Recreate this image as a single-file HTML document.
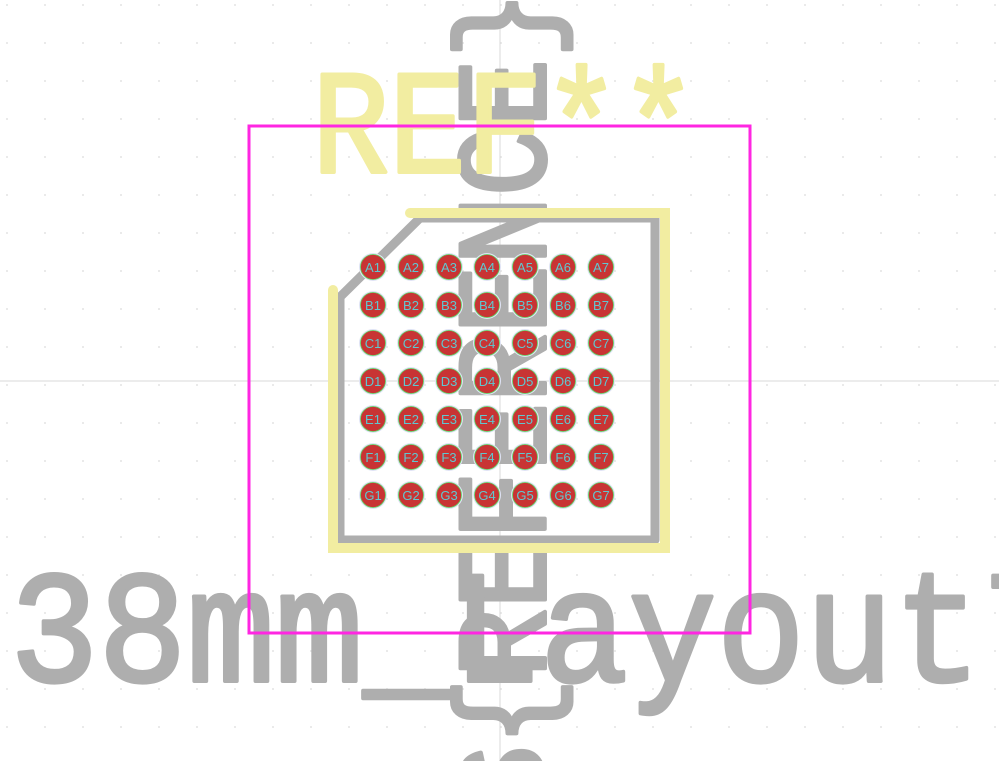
<!DOCTYPE html>
<html><head><meta charset="utf-8"><style>
html,body{margin:0;padding:0;background:#fff;width:999px;height:761px;overflow:hidden}
svg{display:block;overflow:hidden}
</style></head><body>
<svg width="999" height="761" viewBox="0 0 999 761" xmlns="http://www.w3.org/2000/svg">
<defs>
<pattern id="grid" x="0" y="0" width="38" height="38" patternUnits="userSpaceOnUse" patternTransform="translate(6,4)">
<circle cx="1" cy="1" r="1" fill="#e4e4e4"/>
</pattern>
<clipPath id="frame"><rect width="999" height="761"/></clipPath>
</defs>
<g clip-path="url(#frame)">
<rect width="999" height="761" fill="#fff"/>
<rect width="999" height="761" fill="url(#grid)"/>
<line x1="500" y1="0" x2="500" y2="761" stroke="#d8d8d8" stroke-width="1"/>
<line x1="0" y1="381" x2="999" y2="381" stroke="#d8d8d8" stroke-width="1"/>

<g fill="#aeaeae" stroke="#aeaeae" stroke-width="4" stroke-linejoin="round">
<text transform="translate(545,815) rotate(-90)" font-family="Liberation Mono, monospace" font-size="128" textLength="825" lengthAdjust="spacingAndGlyphs">${REFERENCE}</text>
</g>

<g fill="#aeaeae" stroke="#aeaeae" stroke-width="4" stroke-linejoin="round">
<text x="10" y="681" font-family="Liberation Mono, monospace" font-size="160" textLength="1060" lengthAdjust="spacingAndGlyphs">38mm_Layout7</text>
</g>

<polygon points="420,218 655,218 655,540 340,540 340,297" fill="none" stroke="#aeaeae" stroke-width="9" stroke-linejoin="round"/>

<g fill="none" stroke="#f2eda1" stroke-width="10" stroke-linecap="round">
<polyline points="410,213 665,213 665,548 333,548 333,290"/>
</g>

<g fill="#f2eda1" stroke="#f2eda1" stroke-width="4" stroke-linejoin="round">
<text x="312" y="172" font-family="Liberation Mono, monospace" font-size="148" textLength="385" lengthAdjust="spacingAndGlyphs">REF**</text>
</g>

<rect x="249" y="126" width="501" height="507" fill="none" stroke="#ff26e2" stroke-width="3"/>

<g id="pads"></g>
</g>
</svg>
<script>
const rows = ['A','B','C','D','E','F','G'];
const cols = [1,2,3,4,5,6,7];
const x0 = 373, y0 = 267, pitch = 38;
const g = document.getElementById('pads');
const NS = 'http://www.w3.org/2000/svg';
rows.forEach((r, ri) => {
  cols.forEach((c, ci) => {
    const cx = x0 + ci * pitch, cy = y0 + ri * pitch;
    const grp = document.createElementNS(NS, 'g');
    
    
    const halo = document.createElementNS(NS, 'circle');
    halo.setAttribute('cx', cx); halo.setAttribute('cy', cy); halo.setAttribute('r', 14);
    halo.setAttribute('fill', '#dfe3f5');
    grp.appendChild(halo);
    const pad = document.createElementNS(NS, 'circle');
    pad.setAttribute('cx', cx); pad.setAttribute('cy', cy); pad.setAttribute('r', 12.5);
    pad.setAttribute('fill', '#c83434');
    pad.setAttribute('stroke', '#5fd35f'); pad.setAttribute('stroke-width', '0.8');
    grp.appendChild(pad);
    const t = document.createElementNS(NS, 'text');
    t.setAttribute('x', cx); t.setAttribute('y', cy + 5);
    t.setAttribute('text-anchor', 'middle');
    t.setAttribute('font-family', 'Liberation Sans, sans-serif');
    t.setAttribute('font-size', '13');
    t.setAttribute('fill', '#5fc8d0');
    t.textContent = r + c;
    grp.appendChild(t);
    g.appendChild(grp);
  });
});
</script>
</body></html>
